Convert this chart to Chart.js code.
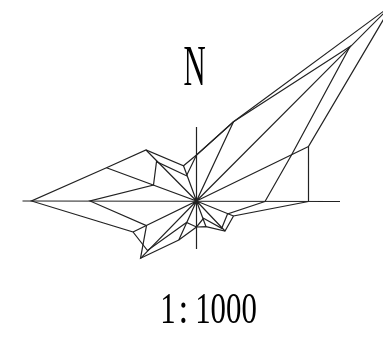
<!DOCTYPE html>
<html>
<head>
<meta charset="utf-8">
<title>Wind rose</title>
<script src="https://cdn.jsdelivr.net/npm/chart.js@4"></script>
<style>
    html, body { margin: 0; padding: 0; background: #ffffff; }
    canvas { display: block; }
</style>
</head>
<body>
<canvas id="myChart" width="383" height="337"></canvas>
<script>
// 16 wind directions, going round from east, anticlockwise
const directions = ['E', 'ENE', 'NE', 'NNE', 'N', 'NNW', 'NW', 'WNW', 'W', 'WSW', 'SW', 'SSW', 'S', 'SSE', 'SE', 'ESE'];

const firstRoseX = [112, 112, 195.5, 37, 0, -13, -50.5, -90, -165, -63.5, -49, -10, 0, 9.5, 28.5, 37];
const firstRoseY = [-0.5, 54.5, 196, 79.3, 46, 35.3, 51, 33.3, 0, -31, -49.5, -21.5, -26, -25.7, -30, -15];

const secondRoseX = [68.5, 95, 153.5, 37, 0, -10, -40, -43, -106.5, -50, -56, -17.7, 0, 7, 25.2, 31];
const secondRoseY = [-0.5, 46, 154.5, 79.3, 46, 25.3, 39.3, 16, 0, -24.7, -57.3, -39, -26, -17.3, -27.3, -13];

// the north-south / east-west cross, the east arm sits a little lower
const crossX = [-174, 143.5];
const crossXLevel = [0, -0.5];
const crossY = [74, -48];

const northLabel = 'N';
const scaleLabel = '1:1000';

function rosePoints(xs, ys) {
    let points = [];
    for (let i = 0; i < directions.length; i++) {
        points.push({ x: xs[i], y: ys[i] });
    }
    points.push({ x: xs[0], y: ys[0] });
    return points;
}

function spokePoints() {
    let points = [];
    for (let i = 0; i < directions.length; i++) {
        // the cross already covers these four
        if (['E', 'N', 'W', 'S'].includes(directions[i])) continue;
        const a = Math.hypot(firstRoseX[i], firstRoseY[i]);
        const b = Math.hypot(secondRoseX[i], secondRoseY[i]);
        points.push({ x: 0, y: 0 });
        if (a > b) points.push({ x: firstRoseX[i], y: firstRoseY[i] });
        else points.push({ x: secondRoseX[i], y: secondRoseY[i] });
    }
    return points;
}

function lineSet(label, data) {
    return {
        label: label,
        data: data,
        showLine: true,
        fill: false,
        tension: 0,
        borderColor: '#222222',
        borderWidth: 1.2,
        pointRadius: 0
    };
}

// squeezed serif text, the drawing uses a narrow CAD font
const textPlugin = {
    id: 'drawingText',
    afterDraw(chart) {
        const ctx = chart.ctx;
        function put(text, cx, baseline, size, squeeze) {
            ctx.save();
            ctx.translate(cx, baseline);
            ctx.scale(squeeze, 1);
            ctx.font = size + 'px "Liberation Serif"';
            ctx.fillStyle = '#000000';
            ctx.textAlign = 'center';
            ctx.textBaseline = 'alphabetic';
            ctx.fillText(text, 0, 0);
            ctx.restore();
        }
        put(northLabel, 194.5, 85, 56, 0.55);
        // the colon has wide gaps round it, so the parts go down one by one
        const parts = scaleLabel.split(':');
        put(parts[0], 168, 323, 44, 0.7);
        put(':', 183.5, 323, 44, 0.8);
        put(parts[1], 226, 323, 44, 0.7);
    }
};

const ctx = document.getElementById('myChart').getContext('2d');
new Chart(ctx, {
    type: 'scatter',
    data: {
        datasets: [
            lineSet('First rose', rosePoints(firstRoseX, firstRoseY)),
            lineSet('Second rose', rosePoints(secondRoseX, secondRoseY)),
            lineSet('Spokes', spokePoints()),
            lineSet('East-west', [{ x: crossX[0], y: crossXLevel[0] }, { x: crossX[1], y: crossXLevel[1] }]),
            lineSet('North-south', [{ x: 0, y: crossY[0] }, { x: 0, y: crossY[1] }])
        ]
    },
    options: {
        responsive: false,
        animation: false,
        layout: { padding: 0 },
        plugins: {
            legend: { display: false },
            tooltip: { enabled: false }
        },
        scales: {
            x: { type: 'linear', display: false, min: -196.5, max: 186.5 },
            y: { type: 'linear', display: false, min: -136, max: 201 }
        }
    },
    plugins: [textPlugin]
});
</script>
</body>
</html>
